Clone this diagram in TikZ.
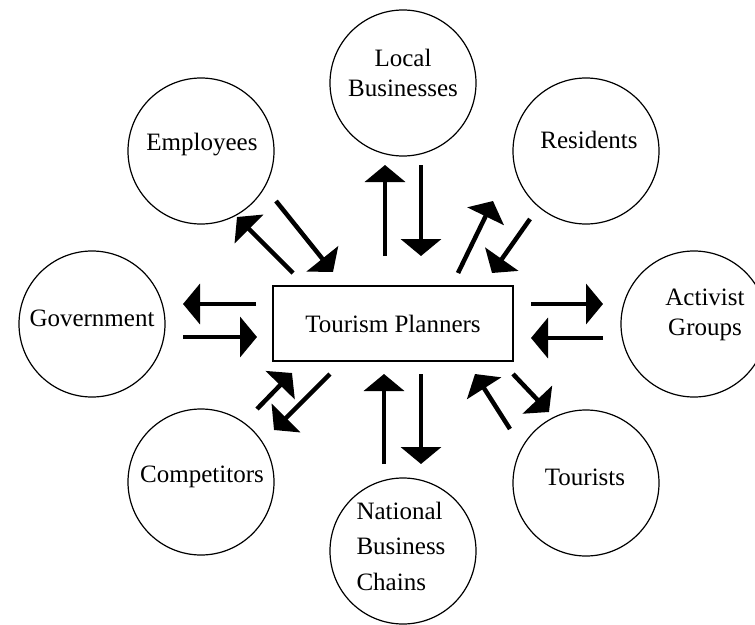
\documentclass[tikz,border=0pt]{standalone}
\usepackage{fontspec}
\setmainfont{Liberation Serif}
\usetikzlibrary{arrows.meta}
\tikzset{every node/.append style={font=\fontsize{25}{30}\selectfont}}
\tikzset{
  stake/.style={draw, shape = circle, line width=1.2pt, minimum size=146pt, inner sep=0pt},
  planner/.style={draw, shape = rectangle, line width=1.4pt, minimum width=240pt, minimum height=75pt},
  flow/.style={line width=4.5pt, -{Triangle[length=17pt, width=40pt]}}
}

\begin{document}
\begin{tikzpicture}[x=1pt, y=-1pt]
    \useasboundingbox (0,0) rectangle (755,624);

    \node[planner] (tp) at (393,323.5) {Tourism Planners};

    \node[stake] (emp) at (201,151) {};
    \node[stake] (loc) at (403,83) {};
    \node[stake] (res) at (586,151) {};
    \node[stake] (gov) at (92,324) {};
    \node[stake] (act) at (694,324) {};
    \node[stake] (com) at (201,482) {};
    \node[stake] (nat) at (403,551) {};
    \node[stake] (tou) at (586,483) {};

    \node (emptxt) at (202,145) {Employees};
    \node[align=center] (loctxt) at (403,73) {Local\\Businesses};
    \node (restxt) at (589,140) {Residents};
    \node (govtxt) at (92,318) {Government};
    \node[align=center] (acttxt) at (705,315) {Activist\\Groups};
    \node (comtxt) at (202,477) {Competitors};
    \node[align=left, font=\fontsize{25}{35.5}\selectfont] (nattxt) at (401,546) {National\\Business\\Chains};
    \node (toutxt) at (585,477) {Tourists};

    % arrow ends
    \coordinate (eo1) at (293,273); \coordinate (eo2) at (237,217);
    \coordinate (ei1) at (276,201); \coordinate (ei2) at (333,272);
    \coordinate (lo1) at (385,256); \coordinate (lo2) at (385,165);
    \coordinate (li1) at (421,165); \coordinate (li2) at (421,256);
    \coordinate (ro1) at (458,273); \coordinate (ro2) at (493,201);
    \coordinate (ri1) at (530,219); \coordinate (ri2) at (492,273);
    \coordinate (go1) at (256,304); \coordinate (go2) at (183,304);
    \coordinate (gi1) at (183,337); \coordinate (gi2) at (257,337);
    \coordinate (ao1) at (531,304); \coordinate (ao2) at (603,304);
    \coordinate (ai1) at (603,338); \coordinate (ai2) at (531,338);
    \coordinate (co1) at (330,374); \coordinate (co2) at (274,430);
    \coordinate (ci1) at (257,409); \coordinate (ci2) at (292,373);
    \coordinate (no1) at (421,374); \coordinate (no2) at (421,464);
    \coordinate (ni1) at (384,464); \coordinate (ni2) at (384,374);
    \coordinate (to1) at (513,374); \coordinate (to2) at (549,412);
    \coordinate (ti1) at (510,429); \coordinate (ti2) at (475,374);

    \draw[flow] (eo1) -- (eo2);
    \draw[flow] (ei1) -- (ei2);
    \draw[flow] (lo1) -- (lo2);
    \draw[flow] (li1) -- (li2);
    \draw[flow] (ro1) -- (ro2);
    \draw[flow] (ri1) -- (ri2);
    \draw[flow] (go1) -- (go2);
    \draw[flow] (gi1) -- (gi2);
    \draw[flow] (ao1) -- (ao2);
    \draw[flow] (ai1) -- (ai2);
    \draw[flow] (co1) -- (co2);
    \draw[flow] (ci1) -- (ci2);
    \draw[flow] (no1) -- (no2);
    \draw[flow] (ni1) -- (ni2);
    \draw[flow] (to1) -- (to2);
    \draw[flow] (ti1) -- (ti2);

  \end{tikzpicture}
\end{document}
